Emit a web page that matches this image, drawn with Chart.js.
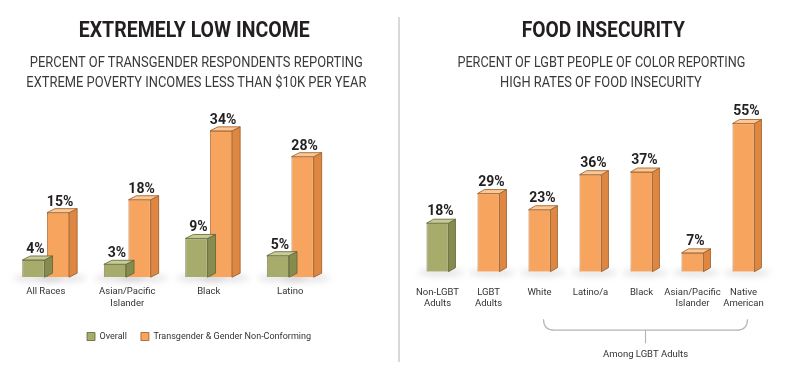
<!DOCTYPE html>
<html><head><meta charset="utf-8">
<script src="https://cdn.jsdelivr.net/npm/chart.js@4"></script>
<style>
body{margin:0;background:#fff;width:785px;height:379px;overflow:hidden;position:relative;font-family:Roboto,"Liberation Sans",sans-serif;}
canvas{position:absolute;top:0}
.t{position:absolute;display:inline-block;white-space:nowrap;transform-origin:50% 50%;}
.title{font-weight:bold;font-size:22px;line-height:22px;color:#231f20;}
.sub{font-size:14px;line-height:14px;color:#3a3a3a;}
#divider{position:absolute;left:398px;top:17px;width:1.5px;height:345px;background:#d9d9d9}
</style></head>
<body>
<canvas id="c1" width="398" height="379" style="left:0"></canvas>
<canvas id="c2" width="385" height="379" style="left:400px"></canvas>
<div id="divider"></div>
<div class="t title" data-cx="194.5" data-w="231" style="top:18.8px">EXTREMELY LOW INCOME</div>
<div class="t sub" data-cx="196.5" data-w="333" style="top:54.9px">PERCENT OF TRANSGENDER RESPONDENTS REPORTING</div>
<div class="t sub" data-cx="196.7" data-w="340" style="top:74.9px">EXTREME POVERTY INCOMES LESS THAN $10K PER YEAR</div>
<div class="t title" data-cx="603" data-w="163" style="top:18.8px">FOOD INSECURITY</div>
<div class="t sub" data-cx="601" data-w="288" style="top:54.9px">PERCENT OF LGBT PEOPLE OF COLOR REPORTING</div>
<div class="t sub" data-cx="601" data-w="201.7" style="top:74.9px">HIGH RATES OF FOOD INSECURITY</div>
<script>
const incomeCategories = [["All Races"], ["Asian/Pacific", "Islander"], ["Black"], ["Latino"]];
const overallValues = [4, 3, 9, 5];
const transValues = [15, 18, 34, 28];
const incomeSeriesNames = ["Overall", "Transgender & Gender Non-Conforming"];

const foodCategories = [["Non-LGBT", "Adults"], ["LGBT", "Adults"], ["White"], ["Latino/a"], ["Black"], ["Asian/Pacific", "Islander"], ["Native", "American"]];
const foodValues = [18, 29, 23, 36, 37, 7, 55];
const bracketLabel = "Among LGBT Adults";

// fit the heading text widths to the reference
document.querySelectorAll('.t').forEach(el => {
  const w = el.getBoundingClientRect().width;
  const cx = parseFloat(el.dataset.cx), tw = parseFloat(el.dataset.w);
  el.style.left = (cx - w / 2) + 'px';
  el.style.transform = 'scaleX(' + (tw / w) + ')';
});

const FONT = 'Roboto, "Liberation Sans", sans-serif';
const GREEN = {front:'#a7ac6c', top:'#c8cb96', side:'#868c50', line:'#5f6334'};
const ORANGE = {front:'#f7a45e', top:'#fbc794', side:'#de8743', line:'#9b5a22'};
function pal(c){ return c === GREEN.front ? GREEN : ORANGE; }

const bar3d = {
  id: 'bar3d',
  beforeDatasetsDraw(chart, args, opts) {
    const ctx = chart.ctx;
    chart.data.datasets.forEach((ds, i) => {
      chart.getDatasetMeta(i).data.forEach(el => {
        const p = el.getProps(['x', 'base', 'width'], true);
        ctx.save();
        ctx.filter = 'blur(3px)';
        ctx.fillStyle = 'rgba(60,60,80,0.13)';
        ctx.beginPath();
        ctx.ellipse(p.x + opts.d / 2, p.base + 1, p.width / 2 + opts.d + 5, 4, 0, 0, Math.PI * 2);
        ctx.fill();
        ctx.restore();
      });
    });
  },
  afterDatasetsDraw(chart, args, opts) {
    const ctx = chart.ctx;
    const d = opts.d, dy = opts.dy;
    chart.data.datasets.forEach((ds, i) => {
      chart.getDatasetMeta(i).data.forEach((el, j) => {
        const p = el.getProps(['x', 'y', 'base', 'width'], true);
        const bg = Array.isArray(ds.backgroundColor) ? ds.backgroundColor[j] : ds.backgroundColor;
        const c = pal(bg);
        const l = p.x - p.width / 2, r = p.x + p.width / 2;
        ctx.save();
        ctx.lineWidth = 0.8;
        ctx.strokeStyle = c.line;
        ctx.lineJoin = 'round';
        ctx.beginPath();
        ctx.moveTo(r, p.y); ctx.lineTo(r + d, p.y - dy); ctx.lineTo(r + d, p.base - dy); ctx.lineTo(r, p.base); ctx.closePath();
        ctx.fillStyle = c.side; ctx.fill(); ctx.stroke();
        ctx.beginPath();
        ctx.moveTo(l, p.y); ctx.lineTo(l + d, p.y - dy); ctx.lineTo(r + d, p.y - dy); ctx.lineTo(r, p.y); ctx.closePath();
        ctx.fillStyle = c.top; ctx.fill(); ctx.stroke();
        ctx.fillStyle = '#231f20';
        ctx.font = 'bold 14px ' + FONT;
        ctx.textAlign = 'center';
        ctx.textBaseline = 'alphabetic';
        ctx.fillText(ds.data[j] + '%', p.x + opts.lx, p.y - opts.ly);
        ctx.restore();
      });
    });
  }
};

const bracket = {
  id: 'bracket',
  afterDraw(chart, args, opts) {
    if (!opts.show) return;
    const ctx = chart.ctx, xs = chart.scales.x;
    const b = chart.chartArea.bottom;
    const x1 = xs.getPixelForValue(opts.from) + 4, x2 = xs.getPixelForValue(opts.to) + 4;
    const yT = b + 47.5, yB = b + 58.5, xm = (x1 + x2) / 2;
    ctx.save();
    ctx.strokeStyle = '#b5b5b5';
    ctx.lineWidth = 1.2;
    ctx.beginPath();
    ctx.moveTo(x1, yT);
    ctx.quadraticCurveTo(x1, yB, x1 + 11, yB);
    ctx.lineTo(x2 - 11, yB);
    ctx.quadraticCurveTo(x2, yB, x2, yT);
    ctx.moveTo(xm, yB); ctx.lineTo(xm, yB + 13);
    ctx.stroke();
    ctx.fillStyle = '#333';
    ctx.font = '9.5px ' + FONT;
    ctx.textAlign = 'center';
    ctx.textBaseline = 'middle';
    ctx.fillText(opts.text, xm, yB + 24);
    ctx.restore();
  }
};

const tickFont = {family: FONT, size: 9.5};
const hiddenAxis = (w) => ({grid: {display: false, drawTicks: false}, border: {display: false}, ticks: {display: false}, afterFit(s) { s.width = w; }});

new Chart(document.getElementById('c1'), {
  type: 'bar',
  data: {
    labels: incomeCategories,
    datasets: [
      {label: incomeSeriesNames[0], data: overallValues, backgroundColor: GREEN.front, borderColor: GREEN.line, borderWidth: 0.8, categoryPercentage: 0.605, barPercentage: 0.9},
      {label: incomeSeriesNames[1], data: transValues, backgroundColor: ORANGE.front, borderColor: ORANGE.line, borderWidth: 0.8, categoryPercentage: 0.605, barPercentage: 0.9}
    ]
  },
  options: {
    responsive: false, animation: false,
    layout: {padding: {left: 0, right: 0, top: 105, bottom: 28}},
    scales: {
      x: {grid: {display: false, drawTicks: false}, border: {display: false}, ticks: {font: tickFont, color: '#333', padding: 9, maxRotation: 0, autoSkip: false}},
      y: Object.assign({position: 'left', min: 0, max: 40}, hiddenAxis(5)),
      yR: Object.assign({type: 'linear', position: 'right', min: 0, max: 1}, hiddenAxis(67))
    },
    plugins: {
      legend: {position: 'bottom', labels: {boxWidth: 8, boxHeight: 8, padding: 14, font: {family: FONT, size: 9}, color: '#333'}},
      tooltip: {enabled: false},
      bar3d: {d: 8, dy: 4, lx: 2, ly: 7},
      bracket: {show: false}
    }
  },
  plugins: [bar3d, bracket]
});

new Chart(document.getElementById('c2'), {
  type: 'bar',
  data: {
    labels: foodCategories,
    datasets: [
      {label: 'Food insecurity', data: foodValues,
       backgroundColor: foodValues.map((v, i) => i === 0 ? GREEN.front : ORANGE.front),
       borderColor: foodValues.map((v, i) => i === 0 ? GREEN.line : ORANGE.line),
       borderWidth: 0.8, categoryPercentage: 1, barPercentage: 0.43}
    ]
  },
  options: {
    responsive: false, animation: false,
    layout: {padding: {left: 12, right: 16, top: 110, bottom: 54.5}},
    scales: {
      x: {grid: {display: false, drawTicks: false}, border: {display: false}, ticks: {font: tickFont, color: '#333', padding: 15, maxRotation: 0, autoSkip: false}},
      y: {display: false, min: 0, max: 60}
    },
    plugins: {
      legend: {display: false},
      tooltip: {enabled: false},
      bar3d: {d: 7, dy: 4, lx: 3, ly: 8},
      bracket: {show: true, from: 2, to: 6, text: bracketLabel}
    }
  },
  plugins: [bar3d, bracket]
});
</script>
</body></html>
